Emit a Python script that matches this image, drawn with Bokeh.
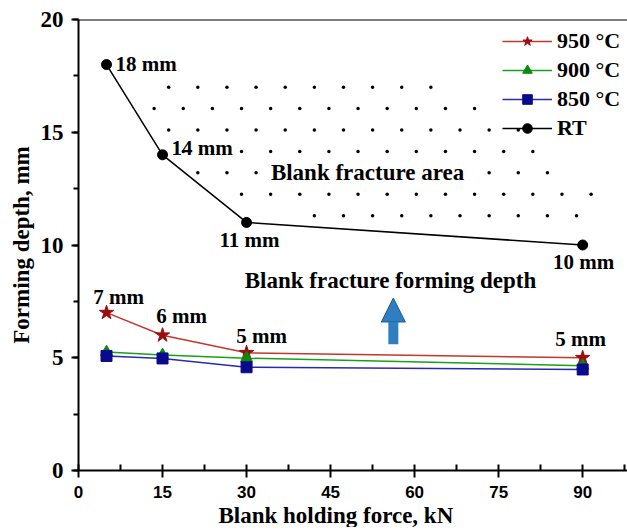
import numpy as np
from bokeh.plotting import figure
from bokeh.models import (ColumnDataSource, Range1d, Span, Label, Arrow, NormalHead,
                          Legend, LegendItem, SingleIntervalTicker, Title)
from bokeh.embed import file_html
from bokeh.resources import INLINE
from bokeh.core.properties import value

# ---- data ----
force = [5, 15, 30, 90]
depth_rt = [18, 14, 11, 10]
depth_950 = [7.0, 6.0, 5.22, 5.0]
depth_900 = [5.25, 5.12, 4.98, 4.65]
depth_850 = [5.08, 4.97, 4.58, 4.48]
labels_rt = ["18 mm", "14 mm", "11 mm", "10 mm"]
labels_950 = ["7 mm", "6 mm", "5 mm", "5 mm"]
series_names = ["950 °C", "900 °C", "850 °C", "RT"]
x_title = "Blank holding force, kN"
y_title = "Forming depth, mm"

# ---- styling / positions ----
SERIF = "Liberation Serif"
SANS = "Liberation Sans"
col_950_line, col_950_mk = "#C0392B", "#9B0E0E"
col_900_line, col_900_mk = "#1AA01A", "#0A8A0A"
col_850_line, col_850_mk = "#2A2AB0", "#0A0A8C"

p = figure(frame_width=549, frame_height=451,
           x_range=Range1d(0, 98), y_range=Range1d(0, 20),
           output_backend="svg", toolbar_location=None,
           min_border_left=78, min_border_right=0, min_border_top=19, min_border_bottom=0)
p.outline_line_color = None
p.xgrid.visible = False
p.ygrid.visible = False
p.background_fill_color = "white"

# top frame line
p.add_layout(Span(location=20, dimension="width", line_color="black", line_width=2))

# fracture area texture: staggered dot grid above the RT curve
top_x = [13, 40, 66, 74, 92]
top_y = [17.5, 17.6, 17.2, 16.0, 12.6]
gx, gy = [], []
for i, yy in enumerate(np.arange(10.35, 17.6, 0.95)):
    shift = 2.6 if i % 2 else 0.0
    for xx in np.arange(13.5 + shift, 92, 5.2):
        if xx > 91.5:
            continue
        if yy < np.interp(xx, force, depth_rt) + 0.45:
            continue
        if yy > np.interp(xx, top_x, top_y):
            continue
        gx.append(xx)
        gy.append(yy)
p.scatter(gx, gy, marker="circle", size=3.5, fill_color="black", line_color=None)

# axes
p.xaxis.axis_line_width = 2
p.yaxis.axis_line_width = 2
p.xaxis.major_tick_line_width = 2
p.yaxis.major_tick_line_width = 2
p.xaxis.minor_tick_line_width = 2
p.yaxis.minor_tick_line_width = 2
p.xaxis.major_tick_in = 0
p.yaxis.major_tick_in = 0
p.xaxis.major_tick_out = 7
p.yaxis.major_tick_out = 7
p.xaxis.minor_tick_in = 6
p.xaxis.minor_tick_out = 0
p.yaxis.minor_tick_in = 0
p.yaxis.minor_tick_out = 5
p.xaxis.ticker = SingleIntervalTicker(interval=15, num_minor_ticks=2)
p.yaxis.ticker = SingleIntervalTicker(interval=5, num_minor_ticks=2)

p.xaxis.major_label_text_font = SANS
p.xaxis.major_label_text_font_size = "17px"
p.xaxis.major_label_text_font_style = "bold"
p.xaxis.major_label_text_color = "black"
p.xaxis.major_label_standoff = 8
p.yaxis.major_label_text_font = SERIF
p.yaxis.major_label_text_font_size = "23px"
p.yaxis.major_label_text_font_style = "bold"
p.yaxis.major_label_text_color = "black"
p.yaxis.major_label_standoff = 8

p.yaxis.axis_label = y_title
p.yaxis.axis_label_text_font = SERIF
p.yaxis.axis_label_text_font_style = "bold"
p.yaxis.axis_label_text_font_size = "23px"
p.yaxis.axis_label_text_color = "black"
p.yaxis.axis_label_standoff = 4

# x title placed below the axis, slightly left of centre as in the original
p.add_layout(Title(text=x_title, align="left", offset=140, standoff=0,
                   text_font=SERIF, text_font_style="bold", text_font_size="23px",
                   text_color="black"), "below")

# series
l950 = p.line(force, depth_950, line_color=col_950_line, line_width=1.5)
m950 = p.scatter(force, depth_950, marker="star", size=15, fill_color=col_950_mk, line_color=col_950_mk)
l900 = p.line(force, depth_900, line_color=col_900_line, line_width=1.5)
m900 = p.scatter(force, depth_900, marker="triangle", size=12, fill_color=col_900_mk, line_color=col_900_mk)
l850 = p.line(force, depth_850, line_color=col_850_line, line_width=1.5)
m850 = p.scatter(force, depth_850, marker="square", size=11, fill_color=col_850_mk, line_color=col_850_mk)
lrt = p.line(force, depth_rt, line_color="black", line_width=1.5)
mrt = p.scatter(force, depth_rt, marker="circle", size=10, fill_color="black", line_color="black")

# point labels
rt_src = ColumnDataSource(dict(x=force, y=depth_rt, t=labels_rt,
                               xo=[9, 9, 3, 1], yo=[-1, -7, 18, 17],
                               al=["left", "left", "center", "center"]))
p.text("x", "y", text="t", source=rt_src, x_offset="xo", y_offset="yo", text_align="al",
       text_baseline="middle", text_font=value(SERIF), text_font_style="bold",
       text_font_size="21px", text_color="black")
h_src = ColumnDataSource(dict(x=force, y=depth_950, t=labels_950,
                              xo=[12, 19, 15, -2], yo=[-16, -19, -17, -19]))
p.text("x", "y", text="t", source=h_src, x_offset="xo", y_offset="yo", text_align="center",
       text_baseline="middle", text_font=value(SERIF), text_font_style="bold",
       text_font_size="21px", text_color="black")

# annotations
p.add_layout(Label(x=51.6, y=13.2, text="Blank fracture area", text_align="center",
                   text_baseline="middle", text_font=SERIF, text_font_style="bold",
                   text_font_size="23px", text_color="black",
                   background_fill_color="white", padding=4))
p.add_layout(Label(x=55.7, y=8.43, text="Blank fracture forming depth", text_align="center",
                   text_baseline="middle", text_font=SERIF, text_font_style="bold",
                   text_font_size="23px", text_color="black"))
p.add_layout(Arrow(x_start=56.2, y_start=5.6, x_end=56.2, y_end=7.65,
                   line_color="#2E7EC1", line_width=10,
                   end=NormalHead(size=24, fill_color="#2E7EC1", line_color="#1F5A8C", line_width=1)))

# legend
legend = Legend(items=[
    LegendItem(label=series_names[0], renderers=[l950, m950]),
    LegendItem(label=series_names[1], renderers=[l900, m900]),
    LegendItem(label=series_names[2], renderers=[l850, m850]),
    LegendItem(label=series_names[3], renderers=[lrt, mrt]),
], location=(424, 329), background_fill_alpha=0, border_line_color=None,
    label_text_font=SERIF, label_text_font_style="bold", label_text_font_size="22px",
    label_text_color="black", glyph_width=50, glyph_height=24, label_height=24,
    spacing=3, padding=5, label_standoff=5, margin=0)
p.add_layout(legend)

open("out.html", "w").write(file_html(p, INLINE))
